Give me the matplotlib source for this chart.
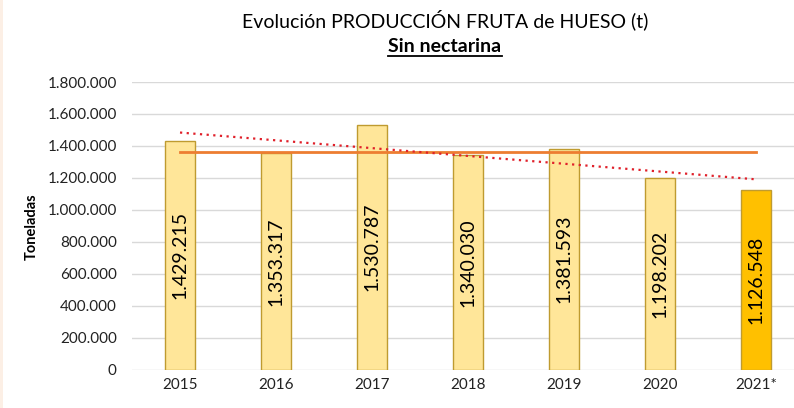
import numpy as np
import matplotlib
matplotlib.use("Agg")
import matplotlib.pyplot as plt
from matplotlib.lines import Line2D
from matplotlib.patches import Rectangle

plt.rcParams['font.family'] = ['Lato', 'DejaVu Sans']

years = ["2015", "2016", "2017", "2018", "2019", "2020", "2021*"]
values = [1429215, 1353317, 1530787, 1340030, 1381593, 1198202, 1126548]
value_labels = ["1.429.215", "1.353.317", "1.530.787", "1.340.030", "1.381.593", "1.198.202", "1.126.548"]
media = 1361000  # horizontal reference line
yticks = [0, 200000, 400000, 600000, 800000, 1000000, 1200000, 1400000, 1600000, 1800000]
ytick_labels = ["0", "200.000", "400.000", "600.000", "800.000", "1.000.000",
                "1.200.000", "1.400.000", "1.600.000", "1.800.000"]
title1 = "Evolución PRODUCCIÓN FRUTA de HUESO (t)"
title2 = "Sin nectarina"
ylabel = "Toneladas"

W, H = 794, 408
fig = plt.figure(figsize=(W / 100, H / 100), dpi=100)
fig.patch.set_facecolor("white")
fig.patches.append(Rectangle((0, 0), 3 / W, 1, transform=fig.transFigure,
                             facecolor="#FCEFE5", edgecolor="none", zorder=0))

ax_left, ax_right = 132, 794
ax_top, ax_bot = 82, 369.5
ax = fig.add_axes([ax_left / W, 1 - ax_bot / H, (ax_right - ax_left) / W, (ax_bot - ax_top) / H])

x = np.arange(len(years))
colors = ["#FFE699"] * (len(years) - 1) + ["#FFC000"]
ax.bar(x, values, width=0.32, color=colors, edgecolor="#BF9B30", linewidth=1.0, zorder=3)

for xi, v, lab in zip(x, values, value_labels):
    ax.text(xi, v / 2, lab, rotation=90, ha="center", va="center",
            fontsize=14, color="black", zorder=5)

# mean line
ax.plot([x[0], x[-1]], [media, media], color="#ED7D31", linewidth=2.0, zorder=4)
# linear trend
coef = np.polyfit(x, values, 1)
ax.plot([x[0], x[-1]], np.polyval(coef, [x[0], x[-1]]), color="#E0202A",
        linewidth=1.6, linestyle=(0, (1, 2)), zorder=4)

ax.set_xlim(-0.5, (ax_right - 180) / 96)
ax.set_ylim(0, 1800000)
ax.set_yticks(yticks)
ax.set_yticklabels(ytick_labels)
ax.set_xticks(x)
ax.set_xticklabels(years)
ax.tick_params(axis="both", length=0, labelsize=11, colors="#222222")
ax.tick_params(axis="y", pad=11)
ax.tick_params(axis="x", pad=6)
ax.grid(axis="y", color="#D9D9D9", linewidth=1.0, zorder=0)
for s in ["top", "right", "left", "bottom"]:
    ax.spines[s].set_visible(False)
ax.set_facecolor("white")

fig.text(32 / W, 1 - 227 / H, ylabel, rotation=90, ha="center", va="center",
         fontsize=10.5, fontweight="bold", color="black")

cx = 445 / W
fig.text(cx, 1 - 20 / H, title1, ha="center", va="center", fontsize=14, color="black")
t2 = fig.text(cx, 1 - 46 / H, title2, ha="center", va="center", fontsize=14,
              fontweight="bold", color="black")

fig.canvas.draw()
bb = t2.get_window_extent(renderer=fig.canvas.get_renderer())
uy = (bb.y0 - 1) / H
fig.lines.append(Line2D([bb.x0 / W, bb.x1 / W], [uy, uy], transform=fig.transFigure,
                        color="black", linewidth=1.3))

fig.savefig("out.png", dpi=100, facecolor="white")
